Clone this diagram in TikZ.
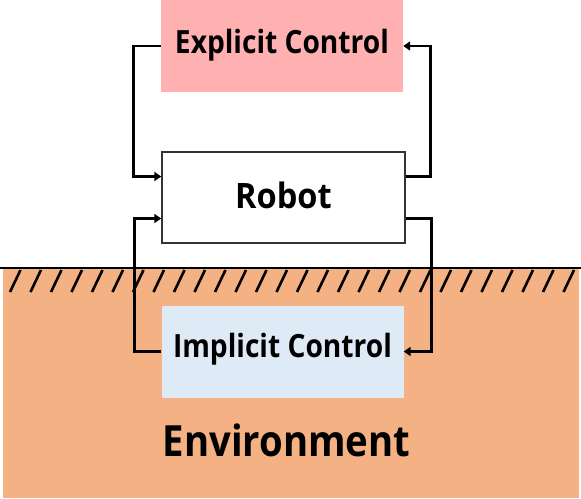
\documentclass[tikz,border=0pt]{standalone}
\usepackage{fontspec}
\setmainfont{Open Sans}
\usetikzlibrary{arrows.meta}
\definecolor{pinkbox}{HTML}{FFB0B0}
\definecolor{bluebox}{HTML}{DEEBF7}
\definecolor{envfill}{HTML}{F4B183}
\tikzset{
  ctrlbox/.style={minimum width=242pt, minimum height=92pt, inner sep=0pt, text height=14pt, text depth=0pt, font=\fontsize{32}{36}\selectfont\bfseries},
  conn/.style={line width=2.8pt, -{Triangle[length=7pt,width=9pt]}},
  hatch/.style={line width=2.6pt},
}
\begin{document}
\begin{tikzpicture}[x=1pt,y=-1pt]
\useasboundingbox (0,0) rectangle (581,498);
% environment
\fill[envfill] (3,269) rectangle (579,498);
\foreach \i in {0,...,27} {
  \draw[hatch] ({20.5+20.5*\i},270) -- ({10+20.5*\i},292);
}
\draw[line width=2.6pt] (0,268) -- (581,268);
\node[anchor=base, font=\fontsize{43}{48}\selectfont\bfseries] (envlabel) at (286.5,456) {\scalebox{0.89}[1]{Environment}};
% boxes
\node[ctrlbox, fill=pinkbox] (expl) at (282,46) {\scalebox{0.88}[1]{Explicit Control}};
\node[ctrlbox, fill=bluebox, text height=11pt] (impl) at (282.5,351.5) {\scalebox{0.88}[1]{Implicit Control}};
\node[draw=black!80, line width=1.4pt, fill=white, minimum width=243pt, minimum height=91pt, inner sep=0pt, text height=21pt, text depth=0pt, font=\fontsize{35}{40}\selectfont\bfseries] (robot) at (283.5,197.5) {\scalebox{0.93}[1]{Robot}};
% connectors
\draw[conn] (expl.west) -- ++(-27,0) |- ([yshift=21pt]robot.west);
\draw[conn] ([yshift=21pt]robot.east) -- ++(25,0) |- (expl.east);
\draw[conn] (impl.west) -- ++(-27,0) |- ([yshift=-21pt]robot.west);
\draw[conn] ([yshift=-21pt]robot.east) -- ++(26,0) |- (impl.east);
\end{tikzpicture}
\end{document}
